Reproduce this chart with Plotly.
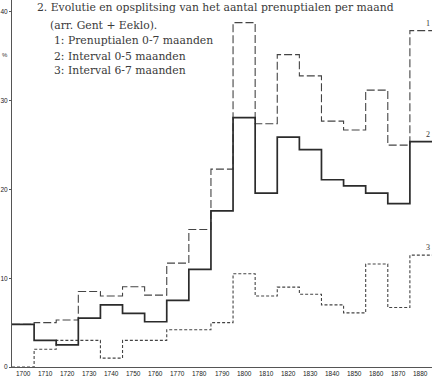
import plotly.graph_objects as go

# ---- data (decade bins, % per month) ----
decades = [1700, 1710, 1720, 1730, 1740, 1750, 1760, 1770, 1780, 1790,
           1800, 1810, 1820, 1830, 1840, 1850, 1860, 1870, 1880]
prenuptialen_0_7 = [4.8, 5.0, 5.3, 8.5, 8.0, 9.05, 8.1, 11.7, 15.5, 22.3,
                    38.8, 27.4, 35.2, 32.8, 27.7, 26.7, 31.2, 25.0, 37.9]
interval_0_5 = [4.8, 3.0, 2.5, 5.5, 7.0, 6.05, 5.1, 7.5, 11.0, 17.6,
                28.1, 19.6, 25.9, 24.5, 21.1, 20.4, 19.6, 18.4, 25.4]
interval_6_7 = [0.0, 2.0, 3.0, 3.0, 1.0, 3.0, 3.0, 4.2, 4.2, 5.0,
                10.5, 8.0, 9.0, 8.2, 7.0, 6.1, 11.6, 6.7, 12.6]
y_ticks = [0, 10, 20, 30, 40]
y_tick_text = ["0", "10", "20", "30", "40"]
series_labels = ["1", "2", "3"]

title_lines = [
    "2. Evolutie en opsplitsing van het aantal prenuptialen per maand",
    "(arr. Gent + Eeklo).",
    "1: Prenuptialen 0-7 maanden",
    "2: Interval 0-5 maanden",
    "3: Interval 6-7 maanden",
]

# ---- geometry ----
W, H = 433, 379
ML, MR, MT, MB = 12, 1, 0, 12
PW, PH = W - ML - MR, H - MT - MB
YMAX = 41.35


def step_xy(vals):
    n = len(vals)
    xs = [i - 0.5 for i in range(n)] + [n - 0.5]
    ys = list(vals) + [vals[-1]]
    return xs, ys


def px(xp):
    return (xp - ML) / PW


def py(yp):
    return 1 - (yp - MT) / PH


fig = go.Figure()

ink = "#2b2b2b"
x1, y1 = step_xy(prenuptialen_0_7)
x3, y3 = step_xy(interval_6_7)
x2, y2 = step_xy(interval_0_5)

fig.add_trace(go.Scatter(x=x1, y=y1, mode="lines", line_shape="hv",
                         line=dict(color="#444", width=1.1, dash="8px,3px"),
                         hoverinfo="skip", showlegend=False, cliponaxis=False))
fig.add_trace(go.Scatter(x=x3, y=y3, mode="lines", line_shape="hv",
                         line=dict(color="#444", width=1.1, dash="3px,2px"),
                         hoverinfo="skip", showlegend=False, cliponaxis=False))
fig.add_trace(go.Scatter(x=x2, y=y2, mode="lines", line_shape="hv",
                         line=dict(color=ink, width=1.7),
                         hoverinfo="skip", showlegend=False, cliponaxis=False))

annotations = []
title_pos = [(36, 8), (49, 25), (53, 41), (53, 56), (53, 71)]
for txt, (xp, yp) in zip(title_lines, title_pos):
    annotations.append(dict(text=txt, x=px(xp), y=py(yp), xref="paper", yref="paper",
                            xanchor="left", yanchor="middle", showarrow=False, borderpad=0,
                            font=dict(family="DejaVu Serif", size=10.8, color="#3a3a3a")))

# series labels at right
last_vals = [prenuptialen_0_7[-1], interval_0_5[-1], interval_6_7[-1]]
for lab, val in zip(series_labels, last_vals):
    annotations.append(dict(text=lab, x=px(428), y=val, xref="paper", yref="y",
                            xanchor="center", yanchor="bottom", showarrow=False,
                            yshift=2, borderpad=0,
                            font=dict(family="Liberation Serif", size=8, color="#333")))

# x tick labels (bin centres)
for i, d in enumerate(decades):
    annotations.append(dict(text=str(d), x=i, y=py(373), xref="x", yref="paper",
                            xanchor="center", yanchor="middle", showarrow=False, borderpad=0,
                            font=dict(family="Liberation Sans", size=6.5, color="#222")))

annotations.append(dict(text="%", x=px(5), y=py(55), xref="paper", yref="paper",
                        xanchor="center", yanchor="middle", showarrow=False, borderpad=0,
                        font=dict(family="Liberation Sans", size=6, color="#333")))

fig.update_layout(
    width=W, height=H,
    margin=dict(l=ML, r=MR, t=MT, b=MB, pad=0),
    paper_bgcolor="white", plot_bgcolor="white",
    annotations=annotations,
    xaxis=dict(range=[-0.5, 18.5], showticklabels=False,
               showgrid=False, zeroline=False, showline=True, linecolor="#555", linewidth=1,
               ticks="", fixedrange=True),
    yaxis=dict(range=[0, YMAX], tickmode="array", tickvals=y_ticks, ticktext=y_tick_text,
               showgrid=False, zeroline=False, showline=True, linecolor="#555", linewidth=1,
               ticks="outside", ticklen=2, tickcolor="#555",
               tickfont=dict(family="Liberation Sans", size=6.5, color="#222"),
               fixedrange=True),
)

fig.write_html("out.html", config={"displayModeBar": False},
               post_script="document.body.style.margin='0';document.body.style.overflow='hidden';")
